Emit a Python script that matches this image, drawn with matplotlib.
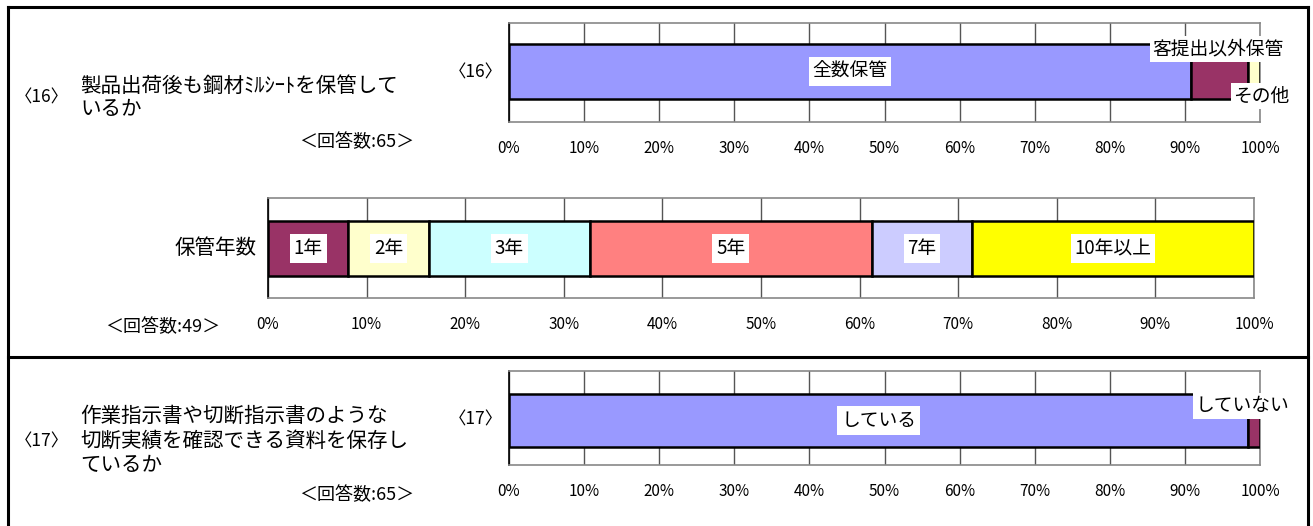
import matplotlib
matplotlib.use('Agg')
import matplotlib.pyplot as plt
from matplotlib.lines import Line2D

plt.rcParams['font.family'] = ['Noto Sans CJK JP', 'DejaVu Sans']

# ---------------- data ----------------
q16_labels = ['全数保管', '客提出以外保管', 'その他']
q16_counts = [59, 5, 1]
q16_colors = ['#9999FF', '#993366', '#FFFFCC']

years_labels = ['1年', '2年', '3年', '5年', '7年', '10年以上']
years_counts = [4, 4, 8, 14, 5, 14]
years_colors = ['#993366', '#FFFFCC', '#CCFFFF', '#FF8080', '#CCCCFF', '#FFFF00']

q17_labels = ['している', 'していない']
q17_counts = [64, 1]
q17_colors = ['#9999FF', '#993366']

tick_values = list(range(0, 101, 10))
tick_labels = [f'{v}%' for v in tick_values]

# ---------------- layout ----------------
W, H = 1313, 526
fig = plt.figure(figsize=(W / 100, H / 100), dpi=100)
fig.patch.set_facecolor('white')

LABEL_FS = 13.5


def px_axes(l, t, r, b):
    return fig.add_axes([l / W, 1 - b / H, (r - l) / W, (b - t) / H])


def ftext(x, y, s, **kw):
    return fig.text(x / W, 1 - y / H, s, **kw)


def draw_bar(ax, labels, counts, colors, center_frac, height, inside):
    total = sum(counts)
    ax.set_xlim(0, 100)
    ax.set_ylim(-center_frac, 1 - center_frac)
    ax.set_xticks(tick_values)
    ax.set_xticklabels(tick_labels, fontsize=11)
    ax.set_yticks([])
    ax.tick_params(axis='x', length=0, pad=13)
    ax.grid(axis='x', color='#555555', lw=1)
    ax.set_axisbelow(True)
    for side in ['top', 'right', 'bottom']:
        ax.spines[side].set_color('#888888')
        ax.spines[side].set_linewidth(1.2)
    ax.spines['left'].set_color('black')
    ax.spines['left'].set_linewidth(1.2)
    left = 0.0
    centers = []
    for lab, c, col in zip(labels, counts, colors):
        w = c / total * 100
        ax.barh(0, w, left=left, height=height, color=col,
                edgecolor='black', linewidth=1.8, zorder=3)
        centers.append(left + w / 2)
        if lab in inside:
            ax.text(left + w / 2, 0, lab, ha='center', va='center', fontsize=LABEL_FS,
                    zorder=5,
                    bbox=dict(boxstyle='square,pad=0.2', fc='white', ec='none'))
        left += w
    return centers


# top chart (Q16)
ax1 = px_axes(509, 23, 1260, 122)
c1 = draw_bar(ax1, q16_labels, q16_counts, q16_colors, 0.51, 0.556, ['全数保管'])
ax1.annotate(q16_labels[1], xy=(c1[1], 0.278), xycoords='data',
             xytext=(-2, -5), textcoords='offset pixels',
             ha='center', va='center', fontsize=LABEL_FS, zorder=6,
             bbox=dict(boxstyle='square,pad=0.12', fc='white', ec='none'))
ax1.annotate(q16_labels[2], xy=(c1[2], -0.278), xycoords='data',
             xytext=(7, 3), textcoords='offset pixels',
             ha='center', va='center', fontsize=LABEL_FS, zorder=6,
             bbox=dict(boxstyle='square,pad=0.12', fc='white', ec='none'))

# middle chart (years)
ax2 = px_axes(268, 198, 1254, 298)
draw_bar(ax2, years_labels, years_counts, years_colors, 0.495, 0.55, years_labels)

# bottom chart (Q17)
ax3 = px_axes(509, 371, 1260, 465)
c3 = draw_bar(ax3, q17_labels, q17_counts, q17_colors, 0.473, 0.565, ['している'])
ax3.annotate(q17_labels[1], xy=(c3[1], 0.2825), xycoords='data',
             xytext=(-12, -12), textcoords='offset pixels',
             ha='center', va='center', fontsize=LABEL_FS, zorder=6,
             bbox=dict(boxstyle='square,pad=0.12', fc='white', ec='none'))

# ---------------- texts ----------------
TITLE_FS = 14.8
ftext(42, 97, '〈16〉', ha='center', va='center', fontsize=12.5)
ftext(80, 86, '製品出荷後も鋼材ﾐﾙｼｰﾄを保管して', ha='left', va='center', fontsize=TITLE_FS)
ftext(80, 109, 'いるか', ha='left', va='center', fontsize=TITLE_FS)
ftext(357, 142, '＜回答数:65＞', ha='center', va='center', fontsize=13)
ftext(476, 72, '〈16〉', ha='center', va='center', fontsize=12.5)

ftext(257, 248, '保管年数', ha='right', va='center', fontsize=TITLE_FS)
ftext(163, 327, '＜回答数:49＞', ha='center', va='center', fontsize=13)

ftext(42, 441, '〈17〉', ha='center', va='center', fontsize=12.5)
ftext(80, 416, '作業指示書や切断指示書のような', ha='left', va='center', fontsize=TITLE_FS)
ftext(80, 441, '切断実績を確認できる資料を保存し', ha='left', va='center', fontsize=TITLE_FS)
ftext(80, 465, 'ているか', ha='left', va='center', fontsize=TITLE_FS)
ftext(357, 495, '＜回答数:65＞', ha='center', va='center', fontsize=13)
ftext(476, 420, '〈17〉', ha='center', va='center', fontsize=12.5)

# ---------------- frame lines ----------------
def fline(x1, y1, x2, y2):
    fig.add_artist(Line2D([x1 / W, x2 / W], [1 - y1 / H, 1 - y2 / H],
                          transform=fig.transFigure, color='black', lw=2.2))

fline(8, 7, 8, 526)
fline(8, 7, 1308, 7)
fline(1308, 7, 1308, 526)
fline(8, 357, 1308, 357)

fig.savefig('out.png', dpi=100)
